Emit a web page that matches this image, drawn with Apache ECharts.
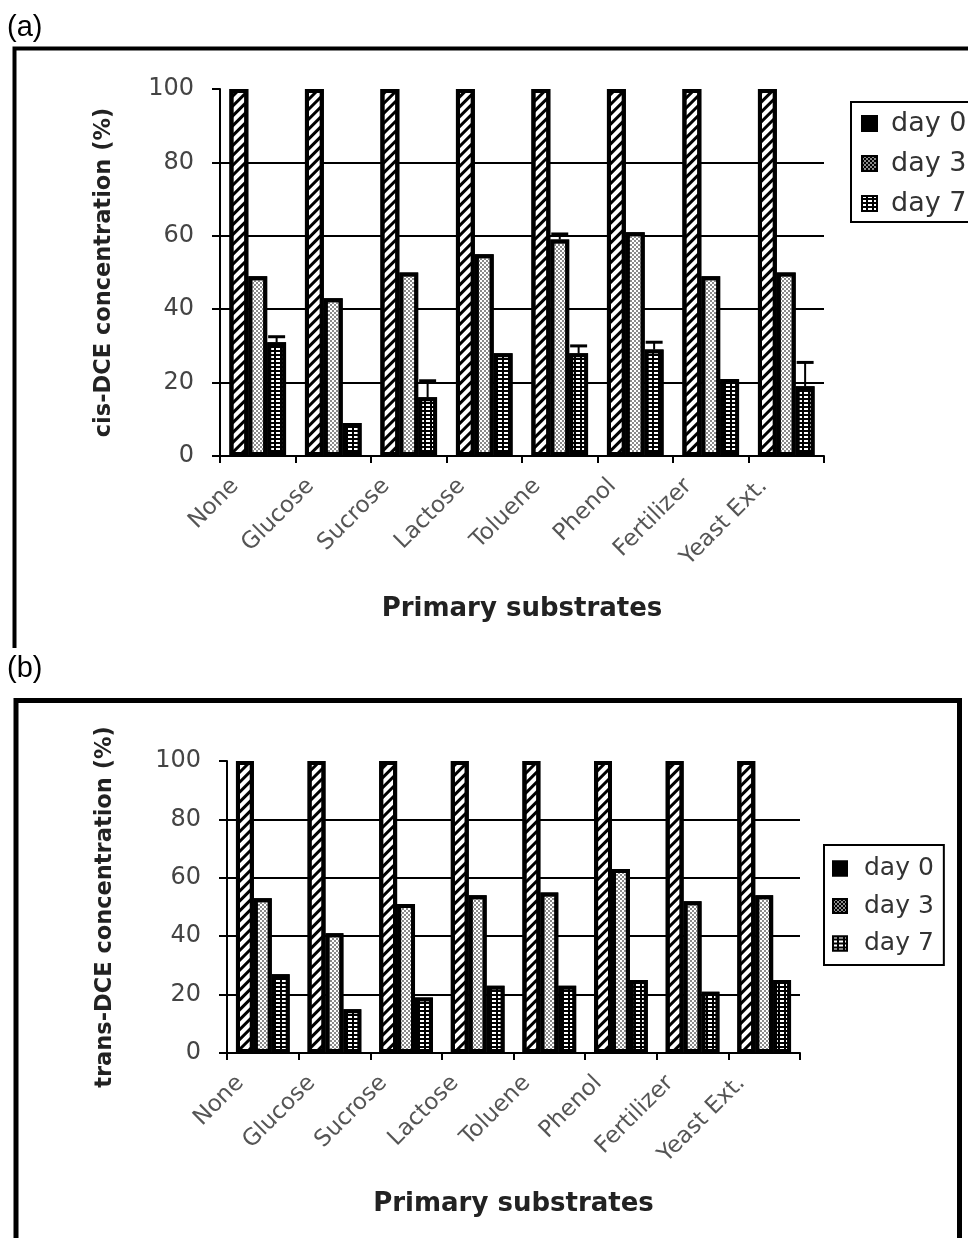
<!DOCTYPE html>
<html>
<head>
<meta charset="utf-8">
<script src="https://cdn.jsdelivr.net/npm/echarts@6/dist/echarts.min.js"></script>
<style>
  html, body { margin: 0; padding: 0; background: #fff; }
  #chart { width: 968px; height: 1238px; }
</style>
</head>
<body>
<div id="chart"></div>
<script>
// ---------- data ----------
const categories = ['None', 'Glucose', 'Sucrose', 'Lactose', 'Toluene', 'Phenol', 'Fertilizer', 'Yeast Ext.'];
const seriesNames = ['day 0', 'day 3', 'day 7'];
const yTicks = [0, 20, 40, 60, 80, 100];

// (a) cis-DCE concentration (%)
const cisDay0 = [100, 100, 100, 100, 100, 100, 100, 100];
const cisDay3 = [49, 43, 50, 55, 59, 61, 49, 50];
const cisDay7 = [31, 9, 16, 28, 28, 29, 21, 19];
const cisErrDay3 = [0, 0, 0, 0, 1.5, 0, 0, 0];
const cisErrDay7 = [1.5, 0, 4.5, 0, 2, 2, 0, 6.5];

// (b) trans-DCE concentration (%)
const transDay0 = [100, 100, 100, 100, 100, 100, 100, 100];
const transDay3 = [53, 41, 51, 54, 55, 63, 52, 54];
const transDay7 = [27, 15, 19, 23, 23, 25, 21, 25];

// ---------- styles ----------
const FONT = 'DejaVu Sans';
const decals = [
  { symbol: 'rect', symbolSize: 1, dashArrayX: [1, 0], dashArrayY: [3, 3.5], rotation: -Math.PI / 4, color: '#000' },
  { symbol: 'rect', symbolSize: 1, dashArrayX: [[2, 2], [0, 2, 2, 0]], dashArrayY: [2, 0], color: '#8a8a8a' },
  { symbol: 'rect', symbolSize: 1, dashArrayX: [4, 2], dashArrayY: [2, 2], color: '#fff' }
];
const fills = ['#fff', '#fff', '#000'];

function barSeries(name, k, data, gi) {
  return {
    type: 'bar', name: name, data: data,
    xAxisIndex: gi, yAxisIndex: gi,
    barGap: '0%', barCategoryGap: '25%',
    itemStyle: { color: fills[k], borderColor: '#000', borderWidth: 4, decal: decals[k] },
    emphasis: { disabled: true },
    z: 2
  };
}

function errData(vals, errs, offset) {
  const out = [];
  vals.forEach((v, i) => { if (errs[i] > 0) out.push([i, v, errs[i], offset]); });
  return out;
}

function errSeries(data, gi) {
  return {
    type: 'custom', xAxisIndex: gi, yAxisIndex: gi, z: 4, silent: true,
    encode: { x: 0, y: 1 },
    data: data,
    renderItem: function (params, api) {
      const i = api.value(0), v = api.value(1), e = api.value(2), off = api.value(3);
      const bw = api.size([1, 0])[0] * 0.75 / 3;
      const base = api.coord([i, v]);
      const top = api.coord([i, v + e]);
      const x = base[0] + off * bw;
      return {
        type: 'group', children: [
          { type: 'line', shape: { x1: x, y1: base[1], x2: x, y2: top[1] }, style: { stroke: '#000', lineWidth: 2 } },
          { type: 'line', shape: { x1: x - bw * 0.45, y1: top[1], x2: x + bw * 0.45, y2: top[1] }, style: { stroke: '#000', lineWidth: 3 } }
        ]
      };
    }
  };
}

function xAxisCfg(gi, nameGap) {
  return {
    type: 'category', gridIndex: gi, data: categories,
    name: 'Primary substrates', nameLocation: 'middle', nameGap: nameGap,
    nameTextStyle: { fontFamily: FONT, fontWeight: 'bold', fontSize: 26, color: '#222' },
    axisLine: { show: true, lineStyle: { color: '#000', width: 2 } },
    axisTick: { show: true, length: 7, lineStyle: { color: '#000', width: 2 } },
    axisLabel: {
      rotate: 45, interval: 0, margin: 4, fontFamily: FONT, fontSize: 23, color: '#555',
      padding: [0, 32, 0, 0]
    },
    splitLine: { show: false }
  };
}

function yAxisCfg(gi, name, nameGap) {
  return {
    type: 'value', gridIndex: gi, min: 0, max: 100, interval: 20,
    name: name, nameLocation: 'middle', nameGap: nameGap,
    nameTextStyle: { fontFamily: FONT, fontWeight: 'bold', fontSize: 22.5, color: '#222' },
    axisLine: { show: true, lineStyle: { color: '#000', width: 2 } },
    axisTick: { show: true, length: 8, lineStyle: { color: '#000', width: 2 } },
    axisLabel: {
      margin: 26, fontFamily: FONT, fontSize: 24, color: '#444',
      formatter: v => (yTicks.indexOf(v) >= 0 ? String(v) : '')
    },
    splitLine: { show: true, showMinLine: false, showMaxLine: false, lineStyle: { color: '#000', width: 2 } }
  };
}

const chart = echarts.init(document.getElementById('chart'), null, { renderer: 'canvas' });

const option = {
  backgroundColor: '#fff',
  animation: false,
  title: [
    { text: '(a)', left: 7, top: 13, padding: 0, textStyle: { fontFamily: 'Liberation Sans', fontSize: 29, fontWeight: 'normal', color: '#000' } },
    { text: '(b)', left: 7, top: 654, padding: 0, textStyle: { fontFamily: 'Liberation Sans', fontSize: 29, fontWeight: 'normal', color: '#000' } }
  ],
  graphic: [
    { type: 'polyline', shape: { points: [[14.5, 648], [14.5, 48.5], [975, 48.5]] }, style: { stroke: '#000', lineWidth: 4, fill: null }, z: 0 },
    { type: 'polyline', shape: { points: [[16, 1245], [16, 700.5], [959.5, 700.5], [959.5, 1245]] }, style: { stroke: '#000', lineWidth: 5, fill: null }, z: 0 }
  ],
  legend: [
    {
      data: seriesNames, orient: 'vertical', left: 851, top: 102,
      padding: [8, 40, 5, 10], itemGap: 13, itemWidth: 15, itemHeight: 15, icon: 'rect',
      borderColor: '#000', borderWidth: 2, selectedMode: false,
      itemStyle: { color: '#000', borderColor: '#000', borderWidth: 2 },
      textStyle: { fontFamily: FONT, fontSize: 27, color: '#333', padding: [0, 0, 0, 9] }
    },
    {
      data: seriesNames, orient: 'vertical', left: 824, top: 845,
      padding: [11, 10, 9, 8], itemGap: 12.5, itemWidth: 14, itemHeight: 14, icon: 'rect',
      borderColor: '#000', borderWidth: 2, selectedMode: false,
      itemStyle: { color: '#000', borderColor: '#000', borderWidth: 2 },
      textStyle: { fontFamily: FONT, fontSize: 25, color: '#333', padding: [0, 0, 0, 12] }
    }
  ],
  grid: [
    { left: 220, top: 89, width: 604, height: 367 },
    { left: 227, top: 761, width: 573, height: 292 }
  ],
  xAxis: [xAxisCfg(0, 140), xAxisCfg(1, 138)],
  yAxis: [yAxisCfg(0, 'cis-DCE concentration (%)', 104), yAxisCfg(1, 'trans-DCE concentration (%)', 110)],
  series: [
    barSeries(seriesNames[0], 0, cisDay0, 0),
    barSeries(seriesNames[1], 1, cisDay3, 0),
    barSeries(seriesNames[2], 2, cisDay7, 0),
    errSeries(errData(cisDay3, cisErrDay3, 0).concat(errData(cisDay7, cisErrDay7, 1)), 0),
    barSeries(seriesNames[0], 0, transDay0, 1),
    barSeries(seriesNames[1], 1, transDay3, 1),
    barSeries(seriesNames[2], 2, transDay7, 1)
  ]
};
chart.setOption(option);
</script>
</body>
</html>
